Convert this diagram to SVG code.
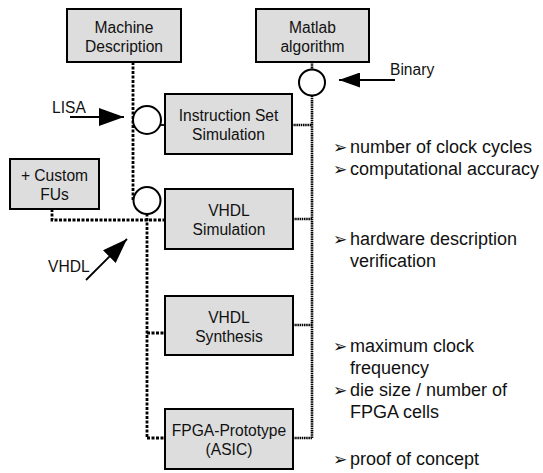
<svg xmlns="http://www.w3.org/2000/svg" width="543" height="473" viewBox="0 0 543 473">
  <style>
    .box { fill: #dddddd; stroke: #000; stroke-width: 2; }
    .lbl { font-family: "Liberation Sans", Arial, Helvetica, sans-serif; font-size: 15.6px; fill: #111; text-anchor: middle; }
    .tag { font-family: "Liberation Sans", Arial, Helvetica, sans-serif; font-size: 15.6px; fill: #111; }
    .bul { font-family: "Liberation Sans", Arial, Helvetica, sans-serif; font-size: 18px; fill: #111; }
    .mk { font-family: "DejaVu Sans", sans-serif; font-size: 17px; }
    .port { fill: #fff; stroke: #000; stroke-width: 2; }
    .flow { fill: none; stroke: #000; stroke-width: 2.8; stroke-dasharray: 3 1.5; }
    .feed { fill: none; stroke: #000; stroke-width: 2.6; stroke-dasharray: 1.5 0.7; }
    .in { fill: none; stroke: #000; stroke-width: 1.8; }
  </style>
  <defs>
    <marker id="head" markerUnits="userSpaceOnUse" viewBox="0 0 25 18" markerWidth="25" markerHeight="18" refX="25" refY="9" orient="auto">
      <path d="M0,0 L25,9 L0,18 z" fill="#000"/>
    </marker>
    <marker id="headS" markerUnits="userSpaceOnUse" viewBox="0 0 21 15" markerWidth="21" markerHeight="15" refX="21" refY="7.5" orient="auto">
      <path d="M0,0 L21,7.5 L0,15 z" fill="#000"/>
    </marker>
  </defs>

  <!-- connectors -->
  <g id="connectors">
    <!-- tool-chain side (left) -->
    <line class="flow" x1="133" y1="62" x2="133" y2="200"/>
    <line class="in" x1="160" y1="125" x2="165" y2="125"/>
    <polyline class="flow" points="52,209 52,220 165,220"/>
    <line class="flow" x1="147" y1="213.5" x2="147" y2="438"/>
    <line class="flow" x1="147" y1="333" x2="165" y2="333"/>
    <line class="flow" x1="147" y1="438" x2="165" y2="438"/>
    <!-- algorithm side (right) -->
    <line class="feed" x1="312" y1="62" x2="312" y2="69.5"/>
    <line class="feed" x1="312" y1="95.5" x2="312" y2="438"/>
    <line class="feed" x1="292" y1="125" x2="312" y2="125"/>
    <line class="feed" x1="293" y1="219" x2="312" y2="219"/>
    <line class="feed" x1="293" y1="325" x2="312" y2="325"/>
    <line class="feed" x1="293" y1="438" x2="312" y2="438"/>
    <!-- inputs -->
    <line class="in" x1="70" y1="117" x2="124" y2="117" marker-end="url(#head)"/>
    <line class="in" x1="395" y1="80" x2="339" y2="80" marker-end="url(#headS)"/>
    <line class="in" x1="86" y1="280" x2="127" y2="239" marker-end="url(#head)"/>
    <circle class="port" cx="147" cy="120" r="14"/>
    <circle class="port" cx="147" cy="200.5" r="13.5"/>
    <circle class="port" cx="312" cy="82.5" r="13"/>
  </g>

  <!-- nodes -->
  <g id="machine-description">
    <rect class="box" x="67" y="9" width="114" height="53"/>
    <text class="lbl" x="124" y="33">Machine</text>
    <text class="lbl" x="124" y="51.5">Description</text>
  </g>
  <g id="matlab-algorithm">
    <rect class="box" x="256" y="9" width="113" height="53"/>
    <text class="lbl" x="312.5" y="33">Matlab</text>
    <text class="lbl" x="312.5" y="51.5">algorithm</text>
  </g>
  <g id="instruction-set-simulation">
    <rect class="box" x="165" y="94" width="127" height="60"/>
    <text class="lbl" x="228.5" y="121">Instruction Set</text>
    <text class="lbl" x="228.5" y="140">Simulation</text>
  </g>
  <g id="custom-fus">
    <rect class="box" x="10" y="159" width="89" height="50"/>
    <text class="lbl" x="54.5" y="181">+ Custom</text>
    <text class="lbl" x="54.5" y="199.5">FUs</text>
  </g>
  <g id="vhdl-simulation">
    <rect class="box" x="165" y="189" width="128" height="60"/>
    <text class="lbl" x="229" y="216">VHDL</text>
    <text class="lbl" x="229" y="235">Simulation</text>
  </g>
  <g id="vhdl-synthesis">
    <rect class="box" x="165" y="296" width="128" height="59"/>
    <text class="lbl" x="229" y="322.5">VHDL</text>
    <text class="lbl" x="229" y="341.5">Synthesis</text>
  </g>
  <g id="fpga-prototype">
    <rect class="box" x="165" y="409" width="128" height="60"/>
    <text class="lbl" x="229" y="436">FPGA-Prototype</text>
    <text class="lbl" x="229" y="455">(ASIC)</text>
  </g>

  <!-- input labels -->
  <text class="tag" x="52" y="113">LISA</text>
  <text class="tag" x="390" y="75">Binary</text>
  <text class="tag" x="48" y="272">VHDL</text>

  <!-- result notes -->
  <g id="notes">
    <text class="bul" x="333" y="153"><tspan class="mk">➢</tspan><tspan x="350">number of clock cycles</tspan></text>
    <text class="bul" x="333" y="175"><tspan class="mk">➢</tspan><tspan x="350">computational accuracy</tspan></text>
    <text class="bul" x="333" y="245"><tspan class="mk">➢</tspan><tspan x="350">hardware description</tspan></text>
    <text class="bul" x="350" y="267">verification</text>
    <text class="bul" x="333" y="352"><tspan class="mk">➢</tspan><tspan x="350">maximum clock</tspan></text>
    <text class="bul" x="350" y="374">frequency</text>
    <text class="bul" x="333" y="396"><tspan class="mk">➢</tspan><tspan x="350">die size / number of</tspan></text>
    <text class="bul" x="350" y="418">FPGA cells</text>
    <text class="bul" x="333" y="465"><tspan class="mk">➢</tspan><tspan x="350">proof of concept</tspan></text>
  </g>
</svg>
